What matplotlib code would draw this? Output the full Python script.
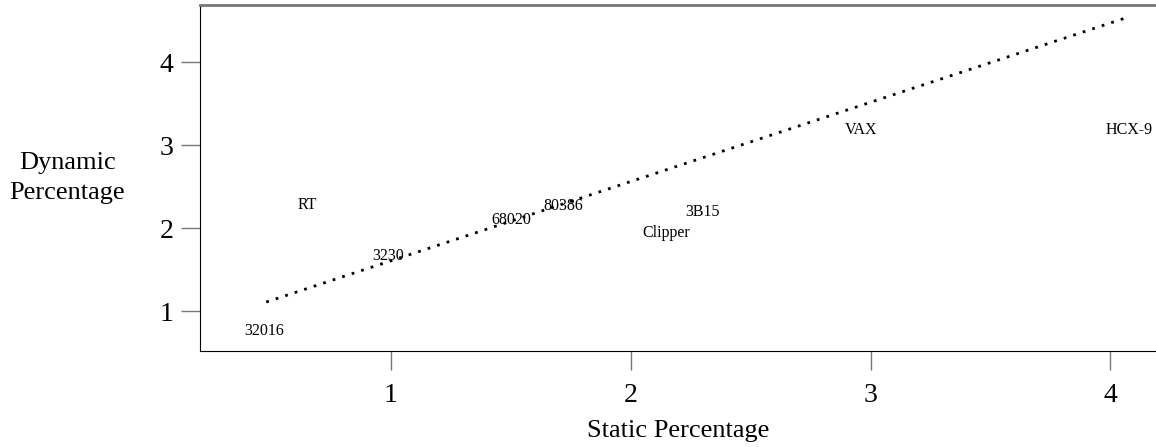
import matplotlib
matplotlib.use("Agg")
from matplotlib import pyplot as plt

plt.rcParams['font.family'] = ['Liberation Serif', 'DejaVu Serif']

# machine name, static %, dynamic %
names = ["32016", "RT", "3230", "68020", "80386", "3B15", "Clipper", "VAX", "HCX-9"]
static_pct = [0.47, 0.65, 0.99, 1.50, 1.72, 2.30, 2.15, 2.96, 4.08]
dynamic_pct = [0.76, 2.28, 1.66, 2.10, 2.27, 2.20, 1.94, 3.18, 3.18]

# fitted line end points
fit_x = [0.48, 4.08]
fit_y = [1.11, 4.55]

fig = plt.figure(figsize=(11.56, 4.47), dpi=100)
ax = fig.add_axes([200/1156, 1 - 351/447, 956/1156, 346/447])

for n, x, y in zip(names, static_pct, dynamic_pct):
	ax.text(x, y, n, ha="center", va="center", fontsize=11.5)

ax.plot(fit_x, fit_y, linestyle=(0, (1, 2.6)), color="black", linewidth=2)

ax.set_xlim(0.204, 4.19)
ax.set_ylim(0.52, 4.69)
ax.set_xticks([1, 2, 3, 4])
ax.set_yticks([1, 2, 3, 4])
ax.tick_params(direction="out", length=14, width=1, color="#777777", labelsize=20, pad=5)
ax.tick_params(axis="x", pad=9)
ax.spines["right"].set_visible(False)
ax.spines["top"].set_color("#777777")
ax.spines["top"].set_linewidth(2)

ax.set_xlabel("Static Percentage", fontsize=19, va="center")
ax.xaxis.set_label_coords(0.5, -0.23)
ax.set_ylabel("Dynamic\nPercentage", fontsize=19, rotation=0, ha="center", va="center", linespacing=1.5)
ax.yaxis.set_label_coords(-0.139, 0.50)

fig.savefig("out.png", dpi=100)
